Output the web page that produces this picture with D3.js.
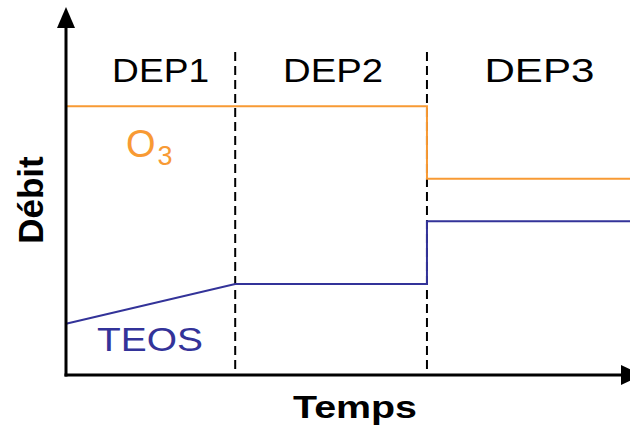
<!DOCTYPE html>
<html>
<head>
<meta charset="utf-8">
<script src="https://cdn.jsdelivr.net/npm/d3@7"></script>
<style>
  body { margin: 0; background: #fff; }
  text { font-family: "Liberation Sans", Arial, sans-serif; }
</style>
</head>
<body>
<div id="chart"></div>
<script>
// phases (deposition steps) and their boundaries on the time axis
const phases = ["DEP1", "DEP2", "DEP3"];
const phaseStart = [0, 30, 64];
const phaseEnd = [30, 64, 100];

// flow rates (arbitrary units)
const o3Times = [0, 64, 64, 100];
const o3Values = [73, 73, 53.3, 53.3];
const teosTimes = [0, 30, 64, 64, 100];
const teosValues = [13.9, 24.7, 24.7, 41.8, 41.8];

const width = 630;
const height = 432;

// label layout: width of each phase label and nudge from the phase centre
const labelWidth = [97, 100, 110];
const labelNudge = [10, 2, 11];

const svg = d3
  .select("#chart")
  .append("svg")
  .attr("width", width)
  .attr("height", height);

const x = d3.scaleLinear().domain([0, 100]).range([66, 630]);
const y = d3.scaleLinear().domain([0, 100]).range([375, 7]);

const line = d3
  .line()
  .x(d => x(d.t))
  .y(d => y(d.v));

const o3 = o3Times.map((t, i) => ({ t: t, v: o3Values[i] }));
const teos = teosTimes.map((t, i) => ({ t: t, v: teosValues[i] }));

// dashed separators between phases
svg
  .selectAll("line.sep")
  .data(phaseStart.slice(1))
  .enter()
  .append("line")
  .attr("class", "sep")
  .attr("x1", d => x(d))
  .attr("x2", d => x(d))
  .attr("y1", 52)
  .attr("y2", y(0))
  .attr("stroke", "#000")
  .attr("stroke-width", 2)
  .attr("stroke-dasharray", "9,5");

// series
svg
  .append("path")
  .attr("d", line(o3))
  .attr("fill", "none")
  .attr("stroke", "#f89a34")
  .attr("stroke-width", 2);

svg
  .append("path")
  .attr("d", line(teos))
  .attr("fill", "none")
  .attr("stroke", "#333399")
  .attr("stroke-width", 2);

// axes with arrow heads
svg
  .append("line")
  .attr("x1", x(0))
  .attr("x2", x(0))
  .attr("y1", y(0) + 1.5)
  .attr("y2", 20)
  .attr("stroke", "#000")
  .attr("stroke-width", 3);
svg
  .append("path")
  .attr("d", `M${x(0)},7 L${x(0) - 9},28 L${x(0) + 9},28 Z`)
  .attr("fill", "#000");

svg
  .append("line")
  .attr("x1", x(0) - 1.5)
  .attr("x2", 625)
  .attr("y1", y(0))
  .attr("y2", y(0))
  .attr("stroke", "#000")
  .attr("stroke-width", 3);
svg
  .append("path")
  .attr("d", `M642,${y(0)} L621,${y(0) - 10} L621,${y(0) + 10} Z`)
  .attr("fill", "#000");

// phase labels
svg
  .selectAll("text.phase")
  .data(phases)
  .enter()
  .append("text")
  .attr("class", "phase")
  .attr("x", (d, i) => (x(phaseStart[i]) + x(phaseEnd[i])) / 2 + labelNudge[i] - labelWidth[i] / 2)
  .attr("y", 82)
  .attr("font-size", 34)
  .attr("textLength", (d, i) => labelWidth[i])
  .attr("lengthAdjust", "spacingAndGlyphs")
  .attr("fill", "#000")
  .text(d => d);

// series labels
const o3Label = svg
  .append("text")
  .attr("x", 126)
  .attr("y", 157)
  .attr("font-size", 38)
  .attr("fill", "#f89a34");
o3Label.append("tspan").text("O");
o3Label
  .append("tspan")
  .attr("font-size", 27)
  .attr("dy", 8)
  .attr("dx", 2)
  .text("3");

svg
  .append("text")
  .attr("x", 97)
  .attr("y", 351)
  .attr("font-size", 34)
  .attr("textLength", 106)
  .attr("lengthAdjust", "spacingAndGlyphs")
  .attr("fill", "#333399")
  .text("TEOS");

// axis titles
svg
  .append("text")
  .attr("x", 355)
  .attr("y", 418)
  .attr("text-anchor", "middle")
  .attr("font-size", 31)
  .attr("font-weight", "bold")
  .attr("textLength", 124)
  .attr("lengthAdjust", "spacingAndGlyphs")
  .text("Temps");

svg
  .append("text")
  .attr("transform", "translate(43,200) rotate(-90)")
  .attr("text-anchor", "middle")
  .attr("font-size", 35)
  .attr("font-weight", "bold")
  .text("Débit");
</script>
</body>
</html>
